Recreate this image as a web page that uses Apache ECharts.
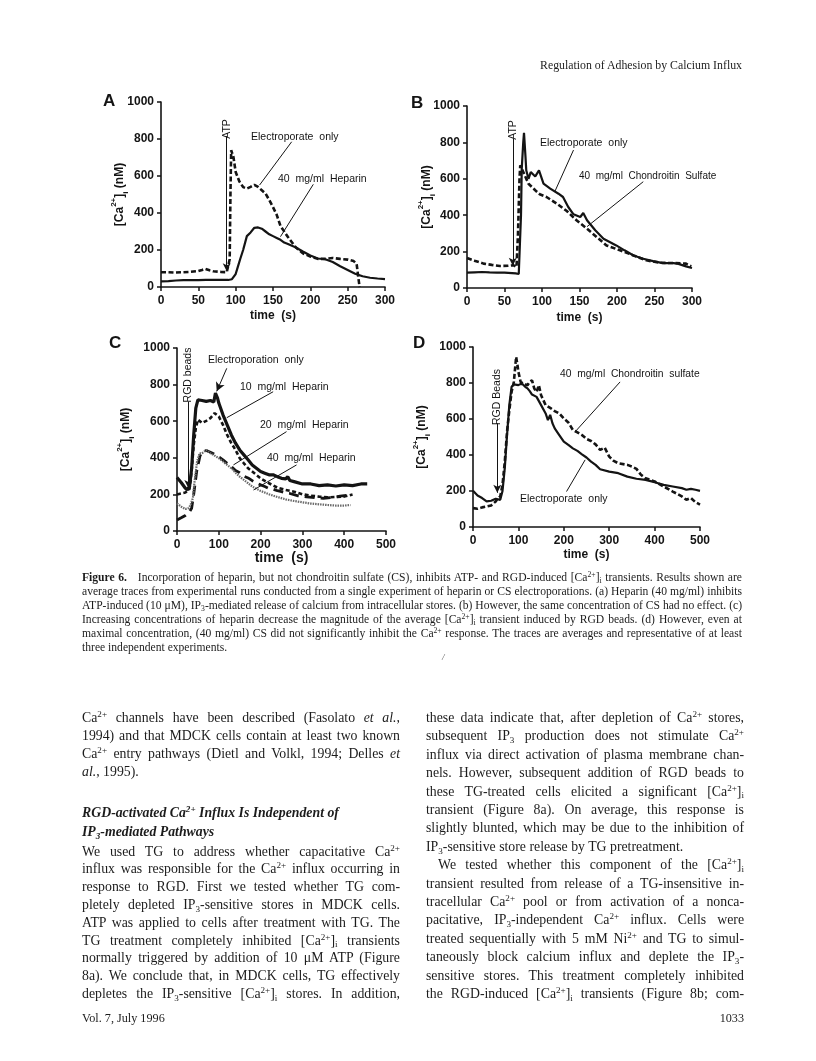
<!DOCTYPE html>
<html><head><meta charset="utf-8">
<script src="https://cdn.jsdelivr.net/npm/echarts@6/dist/echarts.min.js"></script>
<style>
html,body{margin:0;padding:0;background:#fff;}
#page{position:relative;width:816px;height:1061px;overflow:hidden;background:#fff;}
#chart{position:absolute;left:0;top:0;width:816px;height:1061px;}
.ln{position:absolute;white-space:nowrap;font-family:'Liberation Serif','DejaVu Serif',serif;color:#1c1c1c;line-height:1;transform-origin:0 50%;}
.ln sup{font-size:0.66em;vertical-align:0;position:relative;top:-0.55em;line-height:0;}
.ln sub{font-size:0.66em;vertical-align:0;position:relative;top:0.3em;line-height:0;}
</style></head>
<body><div id="page"><div id="chart"></div><div id="txt"></div></div>
<script>
// ---------------- DATA ----------------
// Panel A : time (s) vs [Ca2+]i (nM)
const A_electroporate = [[0,80],[10,80],[20,78],[30,80],[40,82],[50,86],[55,92],[59,98],[65,90],[70,85],[80,82],[88,80],[90,80],[92,150],[93,500],[94,739],[97,703],[100,622],[105,570],[110,540],[115,532],[120,541],[125,552],[130,541],[135,523],[140,505],[145,470],[150,432],[155,390],[160,330],[170,270],[180,216],[190,182],[200,165],[210,152],[220,152],[230,157],[240,152],[250,148],[258,140],[262,125],[264,60],[266,0]];
const A_heparin40 = [[0,30],[10,32],[20,35],[30,37],[40,37],[50,37],[60,38],[70,38],[80,38],[90,38],[95,42],[100,70],[103,110],[106,150],[110,200],[115,275],[120,295],[125,320],[130,322],[135,315],[140,300],[145,285],[150,275],[155,265],[160,255],[165,240],[170,232],[180,215],[190,192],[200,170],[210,154],[220,150],[230,135],[240,112],[250,92],[260,72],[270,58],[280,50],[290,46],[300,43]];
// Panel B
const B_electroporate = [[0,84],[10,86],[20,88],[30,86],[40,85],[50,84],[60,82],[65,80],[69,77],[71,78],[72,400],[73,656],[75,800],[76,852],[78,720],[79,647],[82,600],[85,637],[88,625],[91,613],[96,646],[102,573],[111,546],[122,518],[128,500],[135,445],[142,405],[151,390],[155,412],[160,372],[171,317],[182,271],[199,234],[210,207],[222,179],[235,161],[248,148],[261,137],[275,137],[281,134],[292,119],[300,110]];
const B_chondroitin40 = [[0,165],[10,150],[22,134],[33,127],[44,121],[55,122],[62,125],[66,115],[68,300],[70,600],[71,674],[73,656],[78,610],[82,573],[91,537],[97,515],[106,500],[120,463],[133,423],[146,372],[160,326],[173,280],[186,234],[204,207],[222,179],[239,152],[257,139],[275,137],[292,134],[299,119]];
// Panel C
const C_electroporation = [[0,292],[10,265],[20,234],[25,225],[30,243],[35,343],[40,525],[45,672],[50,717],[60,713],[70,708],[80,713],[88,705],[92,754],[97,726],[100,699],[110,635],[120,580],[130,525],[140,480],[150,443],[160,416],[170,389],[180,361],[190,343],[200,325],[210,316],[220,307],[230,307],[240,297],[250,288],[260,285],[265,297],[270,276],[280,270],[300,257],[320,257],[340,248],[360,252],[380,246],[400,252],[420,248],[440,257],[455,257]];
const C_heparin10 = [[0,200],[10,205],[20,210],[30,230],[35,330],[40,471],[45,562],[50,608],[60,590],[70,602],[80,617],[90,644],[100,626],[110,580],[120,525],[130,480],[140,443],[150,398],[160,370],[170,343],[180,325],[200,288],[220,261],[240,237],[260,224],[280,215],[300,201],[320,193],[340,188],[360,184],[380,186],[400,188],[420,200]];
const C_heparin20 = [[0,60],[10,72],[20,85],[30,105],[35,124],[40,200],[47,325],[55,410],[60,434],[70,440],[80,430],[90,420],[100,405],[110,389],[120,370],[130,352],[140,330],[150,318],[160,300],[170,290],[180,275],[190,262],[200,252],[210,243],[220,232],[230,228],[240,220],[250,215],[260,208],[270,205],[290,192],[310,186],[330,182],[350,179],[370,183],[390,190],[416,197]];
const C_heparin40 = [[0,151],[10,133],[20,120],[28,125],[32,140],[38,180],[42,270],[48,380],[54,425],[60,425],[70,443],[80,425],[90,412],[100,398],[110,380],[120,361],[130,343],[140,319],[150,297],[160,279],[170,261],[180,243],[200,219],[220,201],[240,186],[260,173],[280,164],[300,157],[320,150],[340,146],[360,142],[380,139],[400,139],[415,142]];
// Panel D
const D_electroporate = [[0,201],[10,175],[20,161],[30,142],[40,146],[50,157],[60,151],[65,200],[70,327],[75,511],[80,677],[85,779],[90,792],[100,788],[105,795],[110,792],[115,779],[120,770],[125,755],[130,736],[140,723],[150,677],[160,631],[165,594],[170,623],[175,576],[180,548],[190,511],[200,474],[210,456],[220,437],[230,423],[240,404],[250,386],[260,363],[270,345],[280,321],[300,308],[320,299],[340,280],[360,268],[380,262],[400,249],[420,234],[440,225],[460,216],[470,207],[480,212],[490,207],[500,201]];
const D_chondroitin40 = [[0,105],[10,101],[20,109],[30,114],[40,120],[50,142],[55,161],[60,170],[65,234],[70,363],[75,530],[80,649],[85,751],[90,806],[95,945],[98,899],[100,862],[105,806],[110,797],[120,788],[125,806],[130,815],[135,769],[140,751],[145,788],[150,732],[160,677],[170,662],[180,644],[190,631],[200,603],[210,581],[220,539],[230,526],[240,511],[250,489],[260,478],[270,459],[280,428],[290,441],[300,391],[310,367],[320,354],[340,345],[350,336],[360,323],[370,290],[380,271],[400,253],[420,225],[440,197],[460,170],[470,151],[480,161],[490,138],[500,124]];
// Axis ticks
const yTicks = [0,200,400,600,800,1000];
const xTicksAB = [0,50,100,150,200,250,300];
const xTicksCD = [0,100,200,300,400,500];
// Stimulus marks (time, from value, to value)
const A_atp = [88, 815, 85];
const B_atp = [61, 822, 122];
const C_rgd = [27, 706, 235];
const D_rgd = [53.5, 576, 190];
// Leader lines (data coords)
const A_leaders = [[[175,785],[132,551]],[[204,555],[160,272]]];
const B_leaders = [[[142,758],[117,529]],[[235,584],[160,337]]];
const C_leaders = [[[230,761],[119,619]],[[262,543],[135,361]],[[286,361],[183,224]]];
const C_arrowLeader = [[119,889],[95,763]];
const D_leaders = [[[324,806],[225,529]],[[206,197],[247,373]]];

// ---------------- CHART ----------------
const chart = echarts.init(document.getElementById('chart'), null, {renderer:'canvas', width:816, height:1061});
const SANS = '"Liberation Sans", Arial, sans-serif';
const INK = '#141414';
const yName = '{n|[Ca}{sup|2+}{n|]}{sub|i}{n| (nM)}';
const grids = [
  {left:161, top:102, width:224, height:185},
  {left:467, top:106, width:225, height:182},
  {left:177, top:348, width:209, height:183},
  {left:473, top:347, width:227, height:180}
];
function xAx(gi, ticks, gap, nsize){
  return {type:'value', gridIndex:gi, min:ticks[0], max:ticks[ticks.length-1], interval:ticks[1]-ticks[0],
    name:'time  (s)', nameLocation:'middle', nameGap:gap, nameMoveOverlap:false,
    nameTextStyle:{fontFamily:SANS, fontWeight:'bold', fontSize:nsize, color:INK},
    axisLine:{show:true, lineStyle:{color:INK, width:1.6}},
    axisTick:{show:true, length:4, lineStyle:{color:INK, width:1.5}},
    axisLabel:{fontFamily:SANS, fontWeight:'bold', fontSize:12, color:INK, margin:8, formatter:v=>String(v)},
    splitLine:{show:false}};
}
function yAx(gi, gap){
  return {type:'value', gridIndex:gi, min:yTicks[0], max:yTicks[yTicks.length-1], interval:yTicks[1]-yTicks[0],
    name:yName, nameLocation:'middle', nameGap:gap, nameRotate:90, nameMoveOverlap:false,
    nameTextStyle:{color:INK, rich:{
      n:{fontFamily:SANS, fontWeight:'bold', fontSize:12, color:INK, lineHeight:20, verticalAlign:'middle'},
      sup:{fontFamily:SANS, fontWeight:'bold', fontSize:8, color:INK, lineHeight:9, verticalAlign:'top'},
      sub:{fontFamily:SANS, fontWeight:'bold', fontSize:8, color:INK, lineHeight:9, verticalAlign:'bottom'}}},
    axisLine:{show:true, lineStyle:{color:INK, width:1.6}},
    axisTick:{show:true, length:4, lineStyle:{color:INK, width:1.5}},
    axisLabel:{fontFamily:SANS, fontWeight:'bold', fontSize:12, color:INK, margin:7, formatter:v=>String(v)},
    splitLine:{show:false}};
}
function mark(stim, leaders, arrowLeader){
  const data = [];
  if (stim) data.push([{coord:[stim[0],stim[1]], symbol:'none'},{coord:[stim[0],stim[2]], symbol:'arrow', symbolSize:[6,8]}]);
  (leaders||[]).forEach(l => data.push([{coord:l[0], symbol:'none'},{coord:l[1], symbol:'none'}]));
  if (arrowLeader) data.push([{coord:arrowLeader[0], symbol:'none'},{coord:arrowLeader[1], symbol:'arrow', symbolSize:[7,9]}]);
  return {silent:true, animation:false, label:{show:false}, lineStyle:{color:INK, width:1, type:'solid'}, emphasis:{disabled:true}, data};
}
function ser(name, data, gi, ls, mk){
  const s = {name, type:'line', xAxisIndex:gi, yAxisIndex:gi, data, showSymbol:false, symbol:'none',
    smooth:false, animation:false, lineStyle:ls, emphasis:{disabled:true}};
  if (mk) s.markLine = mk;
  return s;
}
function txt(x, y, s, o){
  o = o || {};
  return {type:'text', x, y, rotation:o.rot||0, silent:true, z:100,
    style:{text:s, fill:INK, font:(o.weight||'normal')+' '+(o.size||10.5)+'px '+SANS,
      align:o.align||'left', verticalAlign:'middle'}};
}
const R = Math.PI/2;
const option = {
  animation:false,
  grid: grids,
  xAxis:[xAx(0,xTicksAB,23,12), xAx(1,xTicksAB,24,12), xAx(2,xTicksCD,20,14), xAx(3,xTicksCD,22,12)],
  yAxis:[yAx(0,31), yAx(1,30), yAx(2,41), yAx(3,41)],
  series:[
    ser('Electroporate only', A_electroporate, 0, {color:INK, width:2.6, type:[5,2.5]}, mark(A_atp, A_leaders)),
    ser('40 mg/ml Heparin', A_heparin40, 0, {color:INK, width:2.2, type:'solid'}),
    ser('Electroporate only', B_electroporate, 1, {color:INK, width:2.2, type:'solid'}, mark(B_atp, B_leaders)),
    ser('40 mg/ml Chondroitin Sulfate', B_chondroitin40, 1, {color:INK, width:2.6, type:[5,2.5]}),
    ser('Electroporation only', C_electroporation, 2, {color:INK, width:3.2, type:'solid'}, mark(C_rgd, C_leaders, C_arrowLeader)),
    ser('10 mg/ml Heparin', C_heparin10, 2, {color:INK, width:2.6, type:[4,2.5]}),
    ser('20 mg/ml Heparin', C_heparin20, 2, {color:INK, width:2.8, type:[10,6]}),
    ser('40 mg/ml Heparin', C_heparin40, 2, {color:'#6a6a6a', width:2.2, type:[1.5,1]}),
    ser('Electroporate only', D_electroporate, 3, {color:INK, width:2.2, type:'solid'}, mark(D_rgd, D_leaders)),
    ser('40 mg/ml Chondroitin sulfate', D_chondroitin40, 3, {color:INK, width:2.6, type:[5,2.5]})
  ],
  graphic:[
    txt(103,101,'A',{weight:'bold', size:17}),
    txt(227,129,'ATP',{rot:R, align:'center'}),
    txt(251,137,'Electroporate  only'),
    txt(278,179,'40  mg/ml  Heparin'),
    txt(411,103,'B',{weight:'bold', size:17}),
    txt(512.7,130,'ATP',{rot:R, align:'center'}),
    txt(540,143,'Electroporate  only'),
    txt(579,176,'40  mg/ml  Chondroitin  Sulfate',{size:10}),
    txt(109,343,'C',{weight:'bold', size:17}),
    txt(188.3,375,'RGD beads',{rot:R, align:'center'}),
    txt(208,360,'Electroporation  only'),
    txt(240,387,'10  mg/ml  Heparin'),
    txt(260,425,'20  mg/ml  Heparin'),
    txt(267,458,'40  mg/ml  Heparin'),
    txt(413,343,'D',{weight:'bold', size:17}),
    txt(497.3,397,'RGD Beads',{rot:R, align:'center'}),
    txt(560,374,'40  mg/ml  Chondroitin  sulfate',{size:10.3}),
    txt(520,499,'Electroporate  only')
  ]
};
chart.setOption(option);

// ---------------- PAGE TEXT ----------------
const CAP = '[Ca<sup>2+</sup>]<sub>i</sub>';
const headerLine = {html:'Regulation of Adhesion by Calcium Influx', x:540, w:202, y:65, size:12.5};
const captionLines = [
  '<b>Figure 6.</b>&nbsp;&nbsp; Incorporation of heparin, but not chondroitin sulfate (CS), inhibits ATP- and RGD-induced '+CAP+' transients. Results shown are',
  'average traces from experimental runs conducted from a single experiment of heparin or CS electroporations. (a) Heparin (40 mg/ml) inhibits',
  'ATP-induced (10 μM), IP<sub>3</sub>-mediated release of calcium from intracellular stores. (b) However, the same concentration of CS had no effect. (c)',
  'Increasing concentrations of heparin decrease the magnitude of the average '+CAP+' transient induced by RGD beads. (d) However, even at',
  'maximal concentration, (40 mg/ml) CS did not significantly inhibit the Ca<sup>2+</sup> response. The traces are averages and representative of at least',
  'three independent experiments.'
];
const leftCol = [
  ['Ca<sup>2+</sup> channels have been described (Fasolato <i>et al.</i>,',1],
  ['1994) and that MDCK cells contain at least two known',1],
  ['Ca<sup>2+</sup> entry pathways (Dietl and Volkl, 1994; Delles <i>et</i>',1],
  ['<i>al.</i>, 1995).',0],
  ['<b><i>RGD-activated Ca<sup>2+</sup> Influx Is Independent of</i></b>',0],
  ['<b><i>IP<sub>3</sub>-mediated Pathways</i></b>',0],
  ['We used TG to address whether capacitative Ca<sup>2+</sup>',1],
  ['influx was responsible for the Ca<sup>2+</sup> influx occurring in',1],
  ['response to RGD. First we tested whether TG com-',1],
  ['pletely depleted IP<sub>3</sub>-sensitive stores in MDCK cells.',1],
  ['ATP was applied to cells after treatment with TG. The',1],
  ['TG treatment completely inhibited '+CAP+' transients',1],
  ['normally triggered by addition of 10 μM ATP (Figure',1],
  ['8a). We conclude that, in MDCK cells, TG effectively',1],
  ['depletes the IP<sub>3</sub>-sensitive '+CAP+' stores. In addition,',1]
];
const rightCol = [
  ['these data indicate that, after depletion of Ca<sup>2+</sup> stores,',1],
  ['subsequent IP<sub>3</sub> production does not stimulate Ca<sup>2+</sup>',1],
  ['influx via direct activation of plasma membrane chan-',1],
  ['nels. However, subsequent addition of RGD beads to',1],
  ['these TG-treated cells elicited a significant '+CAP,1],
  ['transient (Figure 8a). On average, this response is',1],
  ['slightly blunted, which may be due to the inhibition of',1],
  ['IP<sub>3</sub>-sensitive store release by TG pretreatment.',0],
  ['We tested whether this component of the '+CAP,2],
  ['transient resulted from release of a TG-insensitive in-',1],
  ['tracellular Ca<sup>2+</sup> pool or from activation of a nonca-',1],
  ['pacitative, IP<sub>3</sub>-independent Ca<sup>2+</sup> influx. Cells were',1],
  ['treated sequentially with 5 mM Ni<sup>2+</sup> and TG to simul-',1],
  ['taneously block calcium influx and deplete the IP<sub>3</sub>-',1],
  ['sensitive stores. This treatment completely inhibited',1],
  ['the RGD-induced '+CAP+' transients (Figure 8b; com-',1]
];
const footerLeft = 'Vol. 7, July 1996';
const footerRight = '1033';

const box = document.getElementById('txt');
function put(html, x, y, size, W, mode, extra){
  const d = document.createElement('div');
  d.className = 'ln';
  d.innerHTML = html;
  d.style.fontSize = size+'px';
  d.style.left = x+'px';
  d.style.top = (y - size/2)+'px';
  if (extra) Object.assign(d.style, extra);
  box.appendChild(d);
  const w = d.getBoundingClientRect().width;
  if (mode === 'justify'){
    const n = (d.textContent.match(/[ \u00a0]/g)||[]).length;
    const ws = n ? (W - w)/n : 0;
    if (ws < -0.8 || !n) d.style.transform = 'scaleX('+(W/w)+')';
    else d.style.wordSpacing = ws+'px';
  } else if (mode === 'fit'){
    d.style.transform = 'scaleX('+(W/w)+')';
  } else if (mode === 'max' && w > W){
    d.style.transform = 'scaleX('+(W/w)+')';
  } else if (mode === 'right'){
    d.style.left = (x - w)+'px';
  }
  return d;
}
put(headerLine.html, headerLine.x, headerLine.y, headerLine.size, headerLine.w, 'fit');
const capL = 82, capW = 660, capY0 = 578, capStep = 14;
captionLines.forEach((h,i)=>{
  put(h, capL, capY0 + i*capStep, 11.6, capW, i < captionLines.length-1 ? 'justify' : 'max');
});
put('/', 442, 657, 9, 0, null, {fontStyle:'italic', color:'#555'});
const bodySize = 13.8, L = 17.8, y0 = 718;
const colW = 318;
const leftY = [0,1,2,3,5.35,6.4,7.5,8.5,9.5,10.5,11.5,12.5,13.5,14.5,15.5];
leftCol.forEach((ln,i)=>{
  const y = y0 + leftY[i]*L;
  put(ln[0], 82, y, bodySize, colW, ln[1] ? 'justify' : 'max');
});
const rStep = L*15.5/15;
rightCol.forEach((ln,i)=>{
  const y = y0 + i*rStep;
  const ind = ln[1]===2 ? 12 : 0;
  put(ln[0], 426 + ind, y, bodySize, colW - ind, ln[1] ? 'justify' : 'max');
});
put(footerLeft, 82, 1018, 12.2, 0, null);
put(footerRight, 744, 1018, 12.2, 0, 'right');
</script></body></html>
